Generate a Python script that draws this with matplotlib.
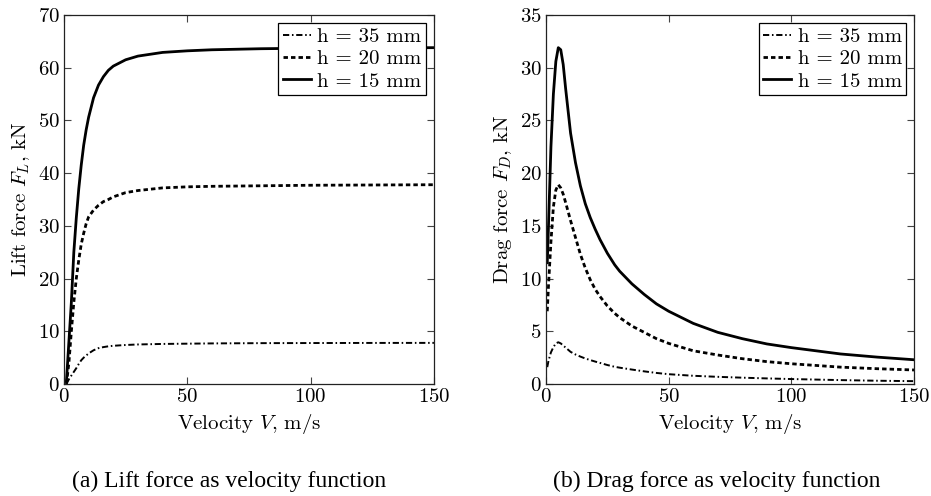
import matplotlib
matplotlib.use("Agg")
import matplotlib.pyplot as plt

# =========================
# DATA
# =========================
labels = ["h = 35 mm", "h = 20 mm", "h = 15 mm"]

v_lift = [1, 2, 3, 4, 5, 6, 7, 8, 9, 10, 12, 14, 16, 18, 20, 25, 30,
          40, 50, 60, 80, 100, 125, 150]
lift_35 = [0, 0.9, 1.6, 2.3, 3.0, 3.8, 4.5, 5.0, 5.4, 5.8, 6.4, 6.8, 7.0,
           7.15, 7.25, 7.4, 7.5, 7.6, 7.65, 7.7, 7.75, 7.77, 7.79, 7.8]
lift_20 = [0, 4.0, 10.0, 15.5, 20.0, 23.5, 26.5, 28.6, 30.4, 31.7, 33.0,
           33.9, 34.6, 35.0, 35.5, 36.3, 36.7, 37.2, 37.4, 37.5, 37.6,
           37.7, 37.75, 37.8]
lift_15 = [0.5, 8.0, 15.5, 25.0, 31.5, 37.0, 41.5, 45.3, 48.2, 50.6, 54.3,
           56.7, 58.3, 59.5, 60.3, 61.5, 62.2, 62.9, 63.2, 63.4, 63.6,
           63.7, 63.75, 63.8]

v_drag = [0.5, 1, 2, 3, 4, 5, 6, 7, 8, 10, 12, 14, 16, 18, 20, 22, 25, 28,
          30, 35, 40, 45, 50, 60, 70, 80, 90, 100, 110, 120, 135, 150]
drag_35 = [1.6, 2.2, 3.0, 3.5, 3.85, 3.96, 3.85, 3.65, 3.45, 3.05, 2.8,
           2.6, 2.42, 2.27, 2.13, 2.0, 1.8, 1.63, 1.55, 1.37, 1.2, 1.05,
           0.93, 0.78, 0.68, 0.6, 0.53, 0.47, 0.42, 0.37, 0.31, 0.27]
drag_20 = [6.9, 9.3, 13.5, 16.8, 18.4, 18.9, 18.6, 18.0, 17.2, 15.5, 13.9,
           12.3, 11.0, 9.9, 9.0, 8.3, 7.4, 6.7, 6.3, 5.5, 4.9, 4.3, 3.85,
           3.15, 2.75, 2.4, 2.12, 1.92, 1.76, 1.6, 1.45, 1.33]
drag_15 = [11.5, 15.0, 22.5, 27.5, 30.6, 31.9, 31.7, 30.3, 28.0, 23.8,
           21.0, 18.8, 17.1, 15.8, 14.7, 13.7, 12.4, 11.3, 10.7, 9.5, 8.5,
           7.6, 6.9, 5.75, 4.9, 4.3, 3.8, 3.45, 3.15, 2.85, 2.55, 2.3]

x_ticks = [0, 50, 100, 150]
lift_ticks = [0, 10, 20, 30, 40, 50, 60, 70]
drag_ticks = [0, 5, 10, 15, 20, 25, 30, 35]

# =========================
# STYLE
# =========================
plt.rcParams["font.family"] = "serif"
plt.rcParams["font.serif"] = ["cmr10"]
plt.rcParams["mathtext.fontset"] = "cm"
plt.rcParams["axes.formatter.use_mathtext"] = True
plt.rcParams["font.size"] = 15

styles = [
    dict(linestyle=(0, (3.2, 1.4, 0.8, 1.4)), linewidth=1.4),
    dict(linestyle=(0, (1.6, 1.1)), linewidth=2.0),
    dict(linestyle="-", linewidth=2.0),
]

fig = plt.figure(figsize=(9.31, 4.96), dpi=100)
ax1 = fig.add_axes([0.0687, 0.2258, 0.3974, 0.744])
ax2 = fig.add_axes([0.5865, 0.2258, 0.3953, 0.744])


def setup(ax, yticks, ylabel):
    ax.set_xlim(0, 150)
    ax.set_ylim(yticks[0], yticks[-1])
    ax.set_xticks(x_ticks)
    ax.set_yticks(yticks)
    ax.tick_params(direction="in", top=True, right=True, length=5,
                   width=0.8, labelsize=15, pad=3, color="#444444")
    for s in ax.spines.values():
        s.set_linewidth(0.9)
        s.set_color("#222222")
    ax.set_xlabel(r"Velocity $V$, m/s", fontsize=15, labelpad=4)
    ax.set_ylabel(ylabel, fontsize=15, labelpad=4)
    leg = ax.legend(loc="upper right", handlelength=1.35, handletextpad=0.3,
                    borderpad=0.22, labelspacing=0.18, borderaxespad=0.37,
                    fancybox=False, edgecolor="black", framealpha=1,
                    fontsize=15)
    leg.get_frame().set_linewidth(0.9)


for y, lab, st in zip([lift_35, lift_20, lift_15], labels, styles):
    ax1.plot(v_lift, y, color="black", label=lab, **st)
for y, lab, st in zip([drag_35, drag_20, drag_15], labels, styles):
    ax2.plot(v_drag, y, color="black", label=lab, **st)

setup(ax1, lift_ticks, r"Lift force $F_L$, kN")
setup(ax2, drag_ticks, r"Drag force $F_D$, kN")

cap = dict(family="Liberation Serif", fontsize=17, ha="center", va="center")
fig.text(229 / 931, 1 - 481 / 496, "(a) Lift force as velocity function", **cap)
fig.text(717 / 931, 1 - 481 / 496, "(b) Drag force as velocity function", **cap)

fig.savefig("out.png", dpi=100)
